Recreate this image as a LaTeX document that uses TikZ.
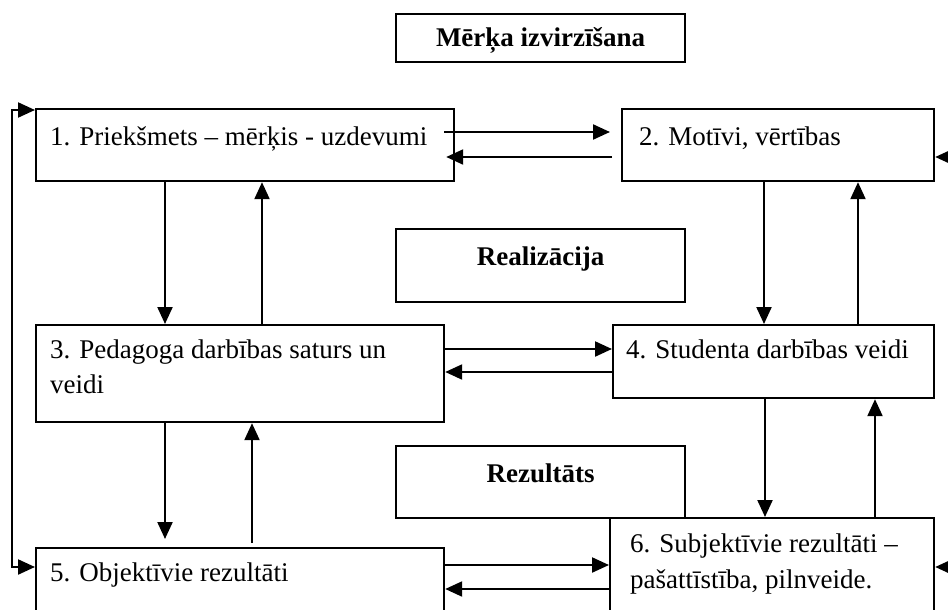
\documentclass[tikz,border=0pt]{standalone}
\usepackage{fontspec}
\setmainfont{Liberation Serif}
\usetikzlibrary{arrows.meta,calc}
\begin{document}
\begin{tikzpicture}[x=1pt,y=-1pt,
  box/.style={draw,line width=2.2pt,fill=white,rectangle,inner sep=0pt,anchor=north west},
  txt/.style={anchor=base west,inner sep=0pt,font=\fontsize{27}{34}\selectfont},
  ttl/.style={anchor=base,inner sep=0pt,font=\fontsize{27}{34}\selectfont\bfseries},
  tip/.tip={Triangle[length=17pt,width=15pt]},
  arr/.style={line width=2.2pt,-tip},
  darr/.style={line width=2.2pt,tip-tip},
]
\clip (0,0) rectangle (948,610);
% boxes
\node[box,minimum width=289pt,minimum height=48pt] (bm) at (395,13) {};
\node[box,minimum width=418pt,minimum height=72pt] (b1) at (35,108) {};
\node[box,minimum width=312pt,minimum height=72pt] (b2) at (621,108) {};
\node[box,minimum width=289pt,minimum height=73pt] (br) at (395,228) {};
\node[box,minimum width=408pt,minimum height=97pt] (b3) at (35,324) {};
\node[box,minimum width=321pt,minimum height=73pt] (b4) at (612,324) {};
\node[box,minimum width=289pt,minimum height=72pt] (bz) at (395,445) {};
\node[box,minimum width=408pt,minimum height=100pt] (b5) at (35,547) {};
\node[box,minimum width=324pt,minimum height=110pt] (b6) at (609,517) {};
% texts
\node[ttl] (tm) at ($(bm.north)+(0,34)$) {Mērķa izvirzīšana};
\node[ttl] (tr) at ($(br.north)+(0,37)$) {Realizācija};
\node[ttl] (tz) at ($(bz.north)+(0,37)$) {Rezultāts};
\node[txt] (t1) at ($(b1.north west)+(15,37)$) {1. Priekšmets – mērķis - uzdevumi};
\node[txt] (t2) at ($(b2.north west)+(18,37)$) {2. Motīvi, vērtības};
\node[txt] (t3a) at ($(b3.north west)+(15,34)$) {3. Pedagoga darbības saturs un};
\node[txt] (t3b) at ($(b3.north west)+(15,69)$) {veidi};
\node[txt] (t4) at ($(b4.north west)+(14,34)$) {4. Studenta darbības veidi};
\node[txt] (t5) at ($(b5.north west)+(15,34)$) {5. Objektīvie rezultāti};
\node[txt] (t6a) at ($(b6.north west)+(21,35)$) {6. Subjektīvie rezultāti –};
\node[txt] (t6b) at ($(b6.north west)+(21,71)$) {pašattīstība, pilnveide.};
% horizontal arrows
\draw[arr] ($(b1.north east)+(-11,24)$) -- ($(b2.north west)+(-11,24)$);
\draw[arr] ($(b2.north west)+(-9,49)$) -- ($(b1.north east)+(-9,49)$);
\draw[arr] ($(b3.north east)+(0,25)$) -- ($(b4.north west)+(0,25)$);
\draw[arr] ($(b4.north west)+(0,48)$) -- ($(b3.north east)+(0,48)$);
\draw[arr] (b5.north east |- 0,565) -- (b6.north west |- 0,565);
\draw[arr] (b6.north west |- 0,589) -- (b5.north east |- 0,589);
% vertical arrows
\draw[arr] (b1.south west -| 165,0) -- (b3.north west -| 165,0);
\draw[arr] (b3.north west -| 262,0) -- (b1.south west -| 262,0);
\draw[arr] (b2.south west -| 764,0) -- (b4.north west -| 764,0);
\draw[arr] (b4.north west -| 858,0) -- (b2.south west -| 858,0);
\draw[arr] (b3.south west -| 165,0) -- ($(b5.north west -| 165,0)+(0,-8)$);
\draw[arr] ($(b5.north west -| 252,0)+(0,-4)$) -- (b3.south west -| 252,0);
\draw[arr] (b4.south west -| 765,0) -- (b6.north west -| 765,0);
\draw[arr] (b6.north west -| 875,0) -- (b4.south west -| 875,0);
% right edge arrows
\coordinate (r2) at (952,157);
\coordinate (r6) at (952,567);
\draw[arr] (r2) -- (b2.north east |- r2);
\draw[arr] (r6) -- (b6.north east |- r6);
% left feedback
\coordinate (l1) at (12,110);
\coordinate (l5) at (12,567);
\draw[darr] (b1.north west |- l1) -- (l1) -- (l5) -- (b5.north west |- l5);
\end{tikzpicture}
\end{document}
